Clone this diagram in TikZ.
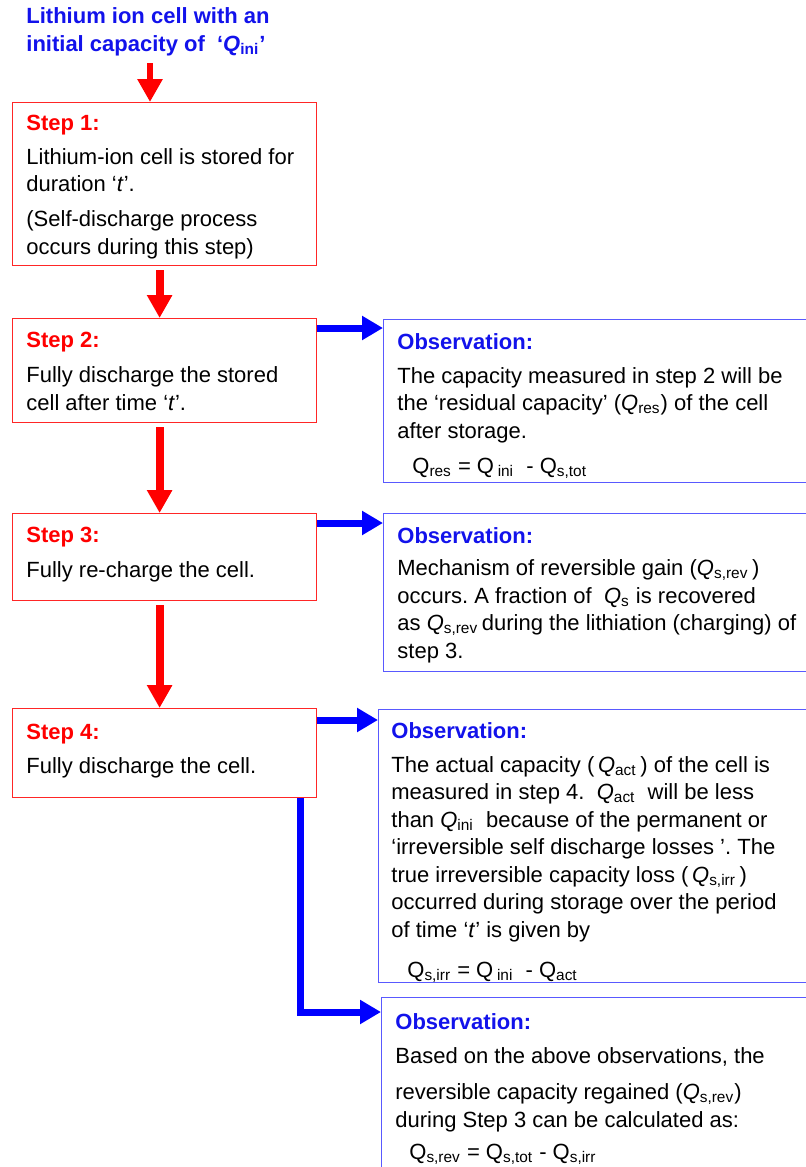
\documentclass[tikz,border=0pt]{standalone}
\usepackage{fontspec}
\setmainfont{Liberation Sans}
\usetikzlibrary{positioning, arrows.meta, calc}
\definecolor{cRed}{RGB}{255,0,0}
\definecolor{cBlue}{RGB}{0,0,255}
\definecolor{cBlueText}{RGB}{18,18,235}
\newcommand\cellfont{\fontsize{11}{13.75}\selectfont\frenchspacing}
\def\px{0.5pt}

\begin{document}
\begin{tikzpicture}[
  x=\px, y=-\px,
  stepbox/.style={draw=cRed!85, line width=0.6pt, minimum width=304*\px,
                  anchor=north west, inner sep=0pt},
  obsbox/.style={draw=cBlue!65, line width=0.6pt, minimum width=440*\px,
                 anchor=north west, inner sep=0pt},
  head/.style={font=\cellfont\bfseries, anchor=base west, inner sep=0pt},
  body/.style={font=\cellfont, anchor=base west, align=left, inner sep=0pt},
  down/.style={-{Triangle[length=11.5pt,width=12pt]}, cRed, line width=4pt},
  flow/.style={-{Triangle[length=10.5pt,width=11.5pt]}, cBlue,
               line width=3.5pt},
]

% =========================================================================
% Page: 806 x 1167 px, 1px = 0.5pt, y runs downwards.  The observation
% boxes run off the right edge (and the last one off the bottom).
% Multi-line texts are placed by the baseline of their LAST line.
% =========================================================================
\useasboundingbox (0,0) rectangle (806,1167);
\clip (0,0) rectangle (806,1167);

% ---- the cell we start from ---------------------------------------------
\node[head, text=cBlueText, align=left] (title) at (26,51)
  {Lithium ion cell with an\\initial capacity of \ `\textit{Q}\textsubscript{ini}'};

% ---- left column: the four steps ----------------------------------------
\node[stepbox, minimum height=163*\px] (s1) at (12,102) {};
\node[stepbox, minimum height=104*\px] (s2) at (12,318) {};
\node[stepbox, minimum height=87*\px]  (s3) at (12,513) {};
\node[stepbox, minimum height=89*\px]  (s4) at (12,708) {};

\node[head, text=cRed] (h1) at (26,130) {Step 1:};
\node[body] (b1) at (26,254)
  {Lithium-ion cell is stored for\\duration `\textit{t}'.\\[3.75pt]
   (Self-discharge process\\occurs during this step)};

\node[head, text=cRed] (h2) at (26,347) {Step 2:};
\node[body] (b2) at (26,410)
  {Fully discharge the stored\\cell after time `\textit{t}'.};

\node[head, text=cRed] (h3) at (26,542) {Step 3:};
\node[body] (b3) at (26,577) {Fully re-charge the cell.};

\node[head, text=cRed] (h4) at (26,739) {Step 4:};
\node[body] (b4) at (26,773) {Fully discharge the cell.};

% ---- right column: what each step shows ---------------------------------
\node[obsbox, minimum height=163*\px] (o1) at (383,319) {};
\node[obsbox, minimum height=158*\px] (o2) at (383,513) {};
\node[obsbox, minimum height=273*\px, minimum width=445*\px] (o3) at (378,709) {};
\node[obsbox, minimum height=200*\px, minimum width=442*\px] (o4) at (381,997) {};

\node[head, text=cBlueText] (k1) at (397,349) {Observation:};
\node[body] (t1) at (397,438)
  {The capacity measured in step 2 will be\\
   the `residual capacity' (\textit{Q}\textsubscript{res}) of the cell\\
   after storage.};
\node[body] (e1) at (412,473)
  {Q\textsubscript{res} = Q\,\textsubscript{ini}\ \ -\ Q\textsubscript{s,tot}};

\node[head, text=cBlueText] (k2) at (397,543) {Observation:};
\node[body] (t2) at (397,658)
  {Mechanism of reversible gain (\textit{Q}\textsubscript{s,rev}\,)\\
   occurs. A fraction of \ \textit{Q}\textsubscript{s} is recovered\\
   as \textit{Q}\textsubscript{s,rev}\,during the lithiation (charging) of\\
   step 3.};

\node[head, text=cBlueText] (k3) at (391,738) {Observation:};
\node[body] (t3) at (391,937)
  {The actual capacity (\,\textit{Q}\textsubscript{act}\,) of the cell is\\
   measured in step 4.\ \ \textit{Q}\textsubscript{act}\ \ will be less\\
   than \textit{Q}\textsubscript{ini}\ \ because of the permanent or\\
   `irreversible self discharge losses\ '. The\\
   true irreversible capacity loss (\,\textit{Q}\textsubscript{s,irr}\,)\\
   occurred during storage over the period\\
   of time `\textit{t}' is given by};
\node[body] (e3) at (407,977)
  {Q\textsubscript{s,irr} = Q\,\textsubscript{ini}\ \ - Q\textsubscript{act}};

\node[head, text=cBlueText] (k4) at (395,1029) {Observation:};
\node[body] (t4) at (395,1127)
  {Based on the above observations, the\\[4.25pt]
   reversible capacity regained (\textit{Q}\textsubscript{s,rev})\\
   during Step 3 can be calculated as:};
\node[body] (e4) at (409,1159)
  {Q\textsubscript{s,rev} = Q\textsubscript{s,tot} - Q\textsubscript{s,irr}};

% ---- arrows --------------------------------------------------------------
\coordinate (a0) at (150,63);
\draw[down, line width=3pt] (a0) -- (a0 |- s1.north);
\foreach \u/\v in {s1/s2, s2/s3, s3/s4}
  \draw[down, shorten <=2pt] ([xshift=-5*\px]\u.south) -- ([xshift=-5*\px]\v.north);

\foreach \s/\o/\d in {s2/o1/10, s3/o2/10, s4/o3/12}
  \draw[flow] ([yshift=-\d*\px]\s.north east) -- ([yshift=-\d*\px]\s.north east -| \o.west);
\draw[flow] ([xshift=-17*\px]s4.south east) |- ([yshift=-15*\px]o4.north west);

\end{tikzpicture}
\end{document}
